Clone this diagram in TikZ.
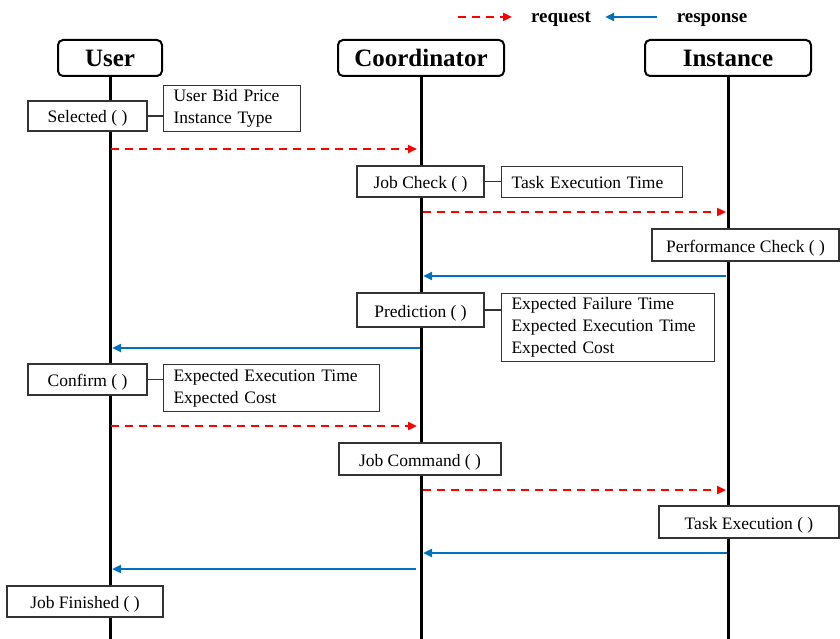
\documentclass[tikz,border=0pt]{standalone}
\usepackage{fontspec}
\setmainfont{Liberation Serif}
\usetikzlibrary{arrows.meta,calc}
\definecolor{reqred}{RGB}{255,0,0}
\definecolor{resblue}{RGB}{0,112,192}
\tikzset{
  head/.style={draw, line width=2pt, rounded corners=5pt, fill=white, minimum height=36pt, font=\fontsize{25}{28}\selectfont\bfseries, inner sep=0pt},
  life/.style={line width=3pt},
  fbox/.style={draw=black!80, line width=1.1pt, fill=white, inner sep=0pt, text height=14pt, text depth=0pt, font=\fontsize{17.5}{22}\selectfont},
  note/.style={draw=black!80, line width=1.1pt, fill=white, inner xsep=10pt, inner ysep=0pt, align=left, anchor=north west, font=\fontsize{17.5}{22}\selectfont},
  notetext/.style={yshift=-1.5pt},
  link/.style={draw=black!80, line width=1.1pt},
  req/.style={draw=reqred, line width=2.3pt, dash pattern=on 8pt off 6pt, -{Triangle[length=9pt,width=8pt]}},
  res/.style={draw=resblue, line width=2.3pt, -{Triangle[length=9pt,width=8pt]}},
  legend/.style={font=\fontsize{19}{22}\selectfont\bfseries, inner sep=0pt, anchor=base}
}
\begin{document}
\begin{tikzpicture}[x=1pt,y=-1pt]
\useasboundingbox (0,0) rectangle (840,639);
% legend
\coordinate (lr1) at (458,17); \coordinate (lr2) at (512,17);
\draw[req] (lr1) -- (lr2);
\node[legend] (lreq) at (561,23) {request};
\coordinate (lb1) at (657,17); \coordinate (lb2) at (605,17);
\draw[res] (lb1) -- (lb2);
\node[legend] (lres) at (712,23) {response};
% headers
\node[head, minimum width=104pt] (user) at (110,58) {User};
\node[head, minimum width=166pt] (coord) at (421,58) {Coordinator};
\node[head, minimum width=166pt] (inst) at (728,58) {Instance};
\coordinate (uend) at (110,639);
\coordinate (cend) at (421,639);
\coordinate (iend) at (728,639);
\draw[life] (user.south) -- (uend);
\draw[life] (coord.south) -- (cend);
\draw[life] (inst.south) -- (iend);
% Selected
\node[fbox, minimum width=119pt, minimum height=30pt] (sel) at (87.5,116) {Selected ( )};
\node[note, text width=117pt, minimum height=46pt] (selnote) at (163,85) {User Bid Price\\Instance Type};
\draw[link] (sel.east) -- (sel.east -| selnote.west);
% arrow 1
\coordinate (a1s) at (111,149); \coordinate (a1e) at (417,149);
\draw[req] (a1s) -- (a1e);
% Job check
\node[fbox, minimum width=127pt, minimum height=31pt] (jc) at (420.5,181.5) {Job Check ( )};
\node[note, text width=161pt, minimum height=31pt] (jcnote) at (501,166) {Task Execution Time};
\draw[link] (jc.east) -- (jc.east -| jcnote.west);
% arrow 2
\coordinate (a2s) at (423,212); \coordinate (a2e) at (726,212);
\draw[req] (a2s) -- (a2e);
% Performance check
\node[fbox, minimum width=187pt, minimum height=32pt] (pc) at (745.5,245) {Performance Check ( )};
% arrow 3
\coordinate (a3s) at (726,276); \coordinate (a3e) at (423,276);
\draw[res] (a3s) -- (a3e);
% Prediction
\node[fbox, minimum width=127pt, minimum height=34pt] (pred) at (420.5,310) {Prediction ( )};
\node[note, text width=193pt, minimum height=68pt] (prednote) at (501,293) {Expected Failure Time\\Expected Execution Time\\Expected Cost};
\draw[link] (pred.east) -- (pred.east -| prednote.west);
% arrow 4
\coordinate (a4s) at (420,348); \coordinate (a4e) at (112,348);
\draw[res] (a4s) -- (a4e);
% Confirm
\node[fbox, minimum width=119pt, minimum height=31pt] (conf) at (87.5,379.5) {Confirm ( )};
\node[note, text width=196pt, minimum height=47pt] (confnote) at (163,364) {Expected Execution Time\\Expected Cost};
\draw[link] (conf.east) -- (conf.east -| confnote.west);
% arrow 5
\coordinate (a5s) at (111,426); \coordinate (a5e) at (417,426);
\draw[req] (a5s) -- (a5e);
% Job command
\node[fbox, minimum width=162pt, minimum height=32pt] (jcmd) at (420,459) {Job Command ( )};
% arrow 6
\coordinate (a6s) at (423,490); \coordinate (a6e) at (726,490);
\draw[req] (a6s) -- (a6e);
% Task execution
\node[fbox, minimum width=180pt, minimum height=32pt] (te) at (749,522) {Task Execution ( )};
% arrow 7
\coordinate (a7s) at (727,553); \coordinate (a7e) at (423,553);
\draw[res] (a7s) -- (a7e);
% arrow 8
\coordinate (a8s) at (416,569); \coordinate (a8e) at (112,569);
\draw[res] (a8s) -- (a8e);
% Job finished
\node[fbox, minimum width=156pt, minimum height=31pt] (jf) at (85,601.5) {Job Finished ( )};
\end{tikzpicture}
\end{document}
